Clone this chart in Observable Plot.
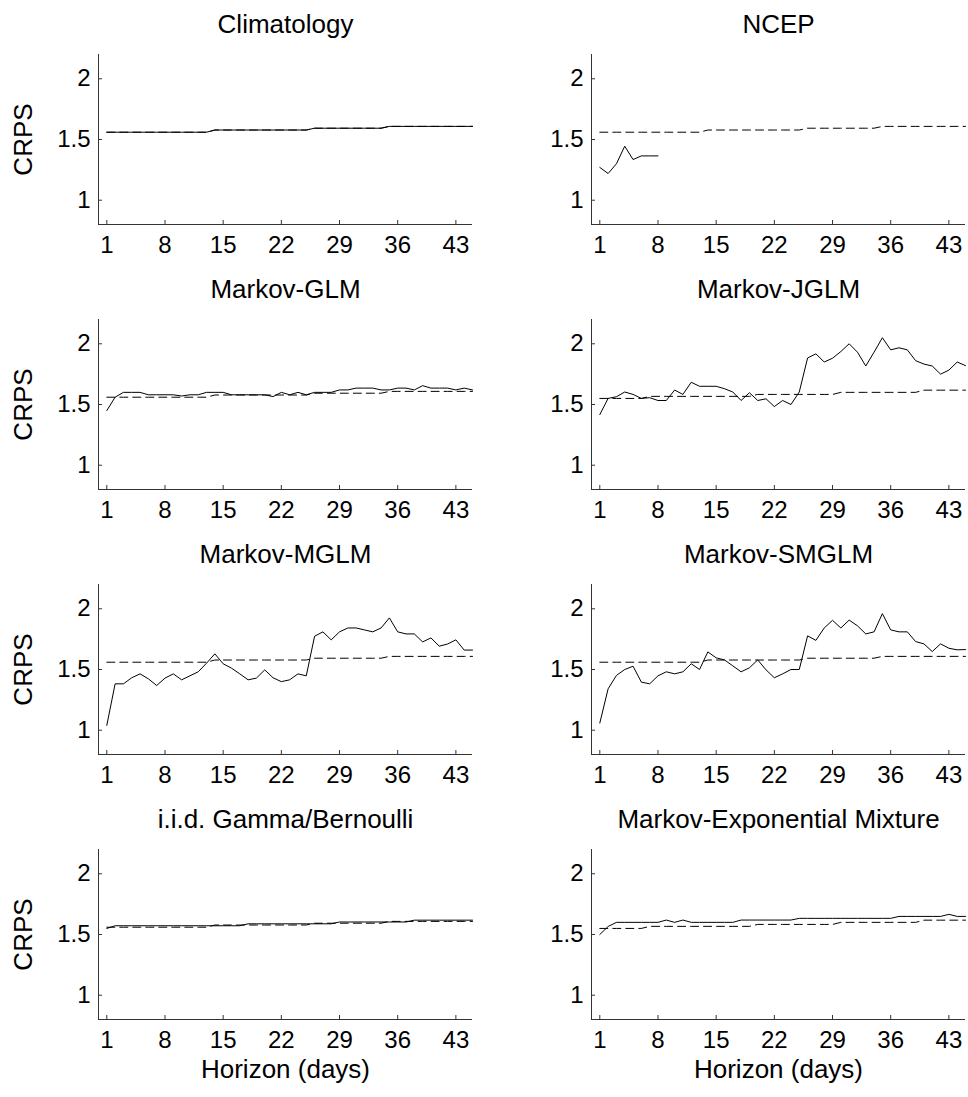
<!DOCTYPE html>
<html>
<head>
<meta charset="utf-8">
<script src="https://cdn.jsdelivr.net/npm/d3@7"></script>
<script src="https://cdn.jsdelivr.net/npm/@observablehq/plot@0.6"></script>
<style>
  html, body { margin: 0; padding: 0; background: #fff; }
  #chart { width: 968px; height: 1097px; background: #fff; }
</style>
</head>
<body>
<div id="chart"></div>
<script>
// ---------- data ----------
const days = [1,2,3,4,5,6,7,8,9,10,11,12,13,14,15,16,17,18,19,20,21,22,23,24,25,26,27,28,29,30,31,32,33,34,35,36,37,38,39,40,41,42,43,44,45];
const xTicks = [1, 8, 15, 22, 29, 36, 43];
const yTicks = [1, 1.5, 2];
const xDomain = [0, 45];
const yDomain = [0.8, 2.2];

const titles = ["Climatology", "NCEP", "Markov-GLM", "Markov-JGLM", "Markov-MGLM", "Markov-SMGLM", "i.i.d. Gamma/Bernoulli", "Markov-Exponential Mixture"];
const yLabel = "CRPS";
const xLabel = "Horizon (days)";

// dashed reference (climatology)
const climatology = [1.56,1.56,1.56,1.56,1.56,1.56,1.56,1.56,1.56,1.56,1.56,1.56,1.56,
  1.578,1.578,1.578,1.578,1.578,1.578,1.578,1.578,1.578,1.578,1.578,1.578,
  1.593,1.593,1.593,1.593,1.593,1.593,1.593,1.593,1.593,
  1.608,1.608,1.608,1.608,1.608,1.608,1.608,1.608,1.608,1.608,1.608];
const climatologyB = [1.55,1.55,1.55,1.55,1.55,1.55,
  1.567,1.567,1.567,1.567,1.567,1.567,1.567,1.567,1.567,1.567,1.567,1.567,1.567,
  1.583,1.583,1.583,1.583,1.583,1.583,1.583,1.583,1.583,1.583,
  1.60,1.60,1.60,1.60,1.60,1.60,1.60,1.60,1.60,1.60,
  1.618,1.618,1.618,1.618,1.618,1.618];

const ncep = [1.27,1.22,1.30,1.445,1.335,1.365,1.365,1.365];
const markovGLM = [1.45,1.56,1.60,1.60,1.60,1.58,1.58,1.58,1.58,1.57,1.58,1.58,1.60,1.60,1.60,1.58,1.58,1.58,1.58,1.58,1.565,1.60,1.58,1.60,1.58,1.60,1.60,1.60,1.62,1.62,1.635,1.635,1.635,1.62,1.62,1.635,1.635,1.62,1.655,1.635,1.635,1.635,1.62,1.635,1.62];
const markovJGLM = [1.417,1.55,1.564,1.603,1.583,1.55,1.556,1.533,1.533,1.619,1.583,1.683,1.65,1.65,1.65,1.63,1.603,1.533,1.597,1.533,1.547,1.483,1.533,1.50,1.603,1.883,1.917,1.85,1.881,1.936,2.0,1.931,1.817,1.931,2.05,1.95,1.967,1.95,1.861,1.833,1.817,1.75,1.783,1.85,1.82];
const markovMGLM = [1.04,1.382,1.382,1.432,1.464,1.423,1.368,1.429,1.464,1.415,1.448,1.481,1.552,1.629,1.547,1.511,1.464,1.415,1.429,1.497,1.432,1.40,1.415,1.464,1.448,1.774,1.81,1.744,1.81,1.842,1.842,1.826,1.81,1.842,1.925,1.81,1.793,1.793,1.727,1.76,1.692,1.71,1.744,1.66,1.66];
const markovSMGLM = [1.059,1.341,1.451,1.50,1.527,1.396,1.382,1.448,1.481,1.464,1.481,1.547,1.50,1.645,1.596,1.579,1.53,1.481,1.514,1.579,1.497,1.432,1.464,1.50,1.50,1.777,1.74,1.842,1.905,1.842,1.907,1.86,1.793,1.81,1.96,1.826,1.81,1.81,1.73,1.711,1.648,1.711,1.675,1.662,1.664];
const iidGammaBernoulli = [1.55,
  1.572,1.572,1.572,1.572,1.572,1.572,1.572,1.572,1.572,1.572,1.572,1.572,1.572,1.572,1.572,1.572,
  1.588,1.588,1.588,1.588,1.588,1.588,1.588,1.588,1.588,1.588,1.588,
  1.603,1.603,1.603,1.603,1.603,1.603,1.603,1.603,1.603,
  1.618,1.618,1.618,1.618,1.618,1.618,1.618,1.618];
const markovExpMixture = [1.50,1.566,1.60,1.60,1.60,1.60,1.60,1.60,1.619,1.60,1.619,1.60,1.60,1.60,1.60,1.60,1.60,
  1.619,1.619,1.619,1.619,1.619,1.619,1.619,
  1.633,1.633,1.633,1.633,1.633,1.633,1.633,1.633,1.633,1.633,1.633,1.633,
  1.649,1.649,1.649,1.649,1.649,1.649,1.666,1.649,1.649];

const modelSeries = [climatology, ncep, markovGLM, markovJGLM, markovMGLM, markovSMGLM, iidGammaBernoulli, markovExpMixture];
const referenceSeries = [climatology, climatology, climatology, climatologyB, climatology, climatology, climatology, climatologyB];

// ---------- tables built from the arrays ----------
const panels = titles.map((title, i) => ({title, col: i % 2, row: Math.floor(i / 2)}));
const toRows = (series) => series.flatMap((arr, i) =>
  arr.map((v, k) => ({col: panels[i].col, row: panels[i].row, day: days[k], crps: v})));
const modelRows = toRows(modelSeries);
const refRows = toRows(referenceSeries);
const leftPanels = panels.filter(p => p.col === 0);
const bottomPanels = panels.filter(p => p.row === 3);

const axisColor = "#333";

const svg = Plot.plot({
  width: 968,
  height: 1097,
  marginLeft: 98,
  marginRight: 3,
  marginTop: 53,
  marginBottom: 78,
  fx: {domain: [0, 1], paddingInner: 0.2414, paddingOuter: 0, axis: null, label: null},
  fy: {domain: [0, 1, 2, 3], paddingInner: 0.359, paddingOuter: 0, axis: null, label: null},
  x: {domain: xDomain},
  y: {domain: yDomain},
  style: {fontFamily: "'Liberation Sans', Arial, Helvetica, sans-serif", fontSize: "24px", color: "black", background: "white", overflow: "visible"},
  marks: [
    Plot.ruleX([xDomain[0]], {stroke: axisColor, strokeWidth: 1}),
    Plot.ruleY([yDomain[0]], {stroke: axisColor, strokeWidth: 1}),
    Plot.axisX(xTicks, {facetAnchor: null, tickSize: -4, text: null, stroke: axisColor, label: null}),
    Plot.axisX(xTicks, {facetAnchor: null, tickSize: 0, tickPadding: 11, label: null, fontSize: 24}),
    Plot.axisY(yTicks, {facetAnchor: null, tickSize: -4, text: null, stroke: axisColor, label: null}),
    Plot.axisY(yTicks, {facetAnchor: null, tickSize: 0, tickPadding: 8, label: null, fontSize: 24, tickFormat: d => String(d)}),
    Plot.lineY(refRows, {x: "day", y: "crps", fx: "col", fy: "row", stroke: "black", strokeWidth: 1, strokeDasharray: "8,5"}),
    Plot.lineY(modelRows, {x: "day", y: "crps", fx: "col", fy: "row", stroke: "black", strokeWidth: 1}),
    Plot.text(panels, {fx: "col", fy: "row", text: "title", frameAnchor: "top", lineAnchor: "bottom", dy: -22, fontSize: 26, fill: "black"}),
    Plot.text(leftPanels, {fx: "col", fy: "row", text: () => yLabel, frameAnchor: "left", textAnchor: "middle", rotate: -90, dx: -75, fontSize: 26, fill: "black"}),
    Plot.text(bottomPanels, {fx: "col", fy: "row", text: () => xLabel, frameAnchor: "bottom", lineAnchor: "top", dy: 40, fontSize: 26, fill: "black"})
  ]
});
document.getElementById("chart").appendChild(svg);
</script>
</body>
</html>
